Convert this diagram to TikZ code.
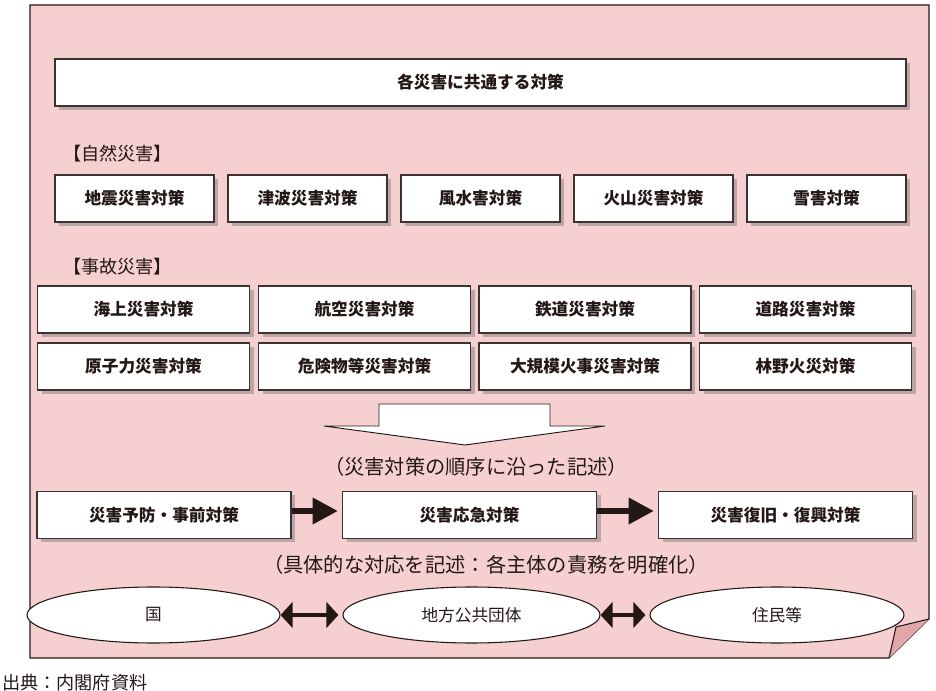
\documentclass[tikz,border=0pt]{standalone}
\usepackage{fontspec}
\setmainfont{Noto Sans CJK JP}
\usetikzlibrary{shapes.geometric,arrows.meta,shadows}
\definecolor{panel}{HTML}{F6CFD0}
\definecolor{flap}{HTML}{E0A6A8}
\definecolor{shade}{HTML}{BBA6A7}
\definecolor{ink}{HTML}{231815}
\definecolor{edge}{HTML}{3C3232}
\begin{document}
\begin{tikzpicture}[x=0.75pt,y=-0.75pt,
  box/.style={draw=edge, fill=white, line width=0.9pt, inner sep=0pt, text=ink,
    font=\fontsize{12.5}{14}\selectfont\bfseries, minimum height=35.25pt,
    drop shadow={shadow xshift=3pt, shadow yshift=-3pt, fill=shade, opacity=1}},
  natbox/.style={box, minimum width=119.25pt},
  accbox/.style={box, minimum width=159pt},
  phasebox/.style={box, minimum width=190.5pt},
  actor/.style={ellipse, draw=ink, fill=white, line width=0.8pt, inner sep=0pt,
    minimum height=42pt, text=ink, font=\fontsize{12.5}{14}\selectfont},
  lbl/.style={text=ink, inner sep=0pt, font=\fontsize{13.6}{15}\selectfont},
  paren/.style={text=ink, inner sep=0pt, font=\fontsize{15.2}{17}\selectfont},
  fatarrow/.style={draw=ink, line width=4.5pt, -{Triangle[length=19pt,width=19pt]}, shorten >=3pt},
  dblarrow/.style={draw=ink, line width=3.5pt, {Triangle[length=9pt,width=19pt]}-{Triangle[length=9pt,width=19pt]}, shorten >=3pt}
]
\useasboundingbox (0,0) rectangle (936,691);
% panel with folded corner
\draw[fill=panel, draw=ink, line width=0.8pt] (30,5) -- (929,5) -- (929,619) -- (889,658) -- (30,658) -- cycle;

% top box
\node[box, minimum width=638.25pt] (common) at (480.5,82.5) {各災害に共通する対策};

% natural disasters
\node[lbl, anchor=west] (natlbl) at (63,154) {【自然災害】};
\node[natbox] (n1) at (134.5,198.5) {地震災害対策};
\node[natbox] (n2) at (307.5,198.5) {津波災害対策};
\node[natbox] (n3) at (480.5,198.5) {風水害対策};
\node[natbox] (n4) at (653.5,198.5) {火山災害対策};
\node[natbox] (n5) at (826.5,198.5) {雪害対策};

% accident disasters
\node[lbl, anchor=west] (acclbl) at (63,267) {【事故災害】};
\node[accbox] (a1) at (143.5,309.5) {海上災害対策};
\node[accbox] (a2) at (364.5,309.5) {航空災害対策};
\node[accbox] (a3) at (585,309.5) {鉄道災害対策};
\node[accbox] (a4) at (805.5,309.5) {道路災害対策};
\node[accbox] (a5) at (143.5,366.5) {原子力災害対策};
\node[accbox] (a6) at (364.5,366.5) {危険物等災害対策};
\node[accbox] (a7) at (585,366.5) {大規模火事災害対策};
\node[accbox] (a8) at (805.5,366.5) {林野火災対策};

% big hollow arrow
\draw[fill=white, draw=ink, line width=0.7pt] (379,404) -- (550,404) -- (550,426) -- (605,426)
  -- (465,445) -- (324,426) -- (379,426) -- cycle;

\node[paren] (order) at (476,467) {（災害対策の順序に沿った記述）};

% phases
\node[phasebox] (p1) at (164,515) {災害予防・事前対策};
\node[phasebox] (p2) at (469.5,515) {災害応急対策};
\node[phasebox] (p3) at (785.5,515) {災害復旧・復興対策};
\draw[fatarrow] ([yshift=3pt]p1.east) -- ([yshift=3pt]p2.west);
\draw[fatarrow] ([yshift=3pt]p2.east) -- ([yshift=3pt]p3.west);

\node[paren] (roles) at (486,565) {（具体的な対応を記述：各主体の責務を明確化）};

% actors
\node[actor, minimum width=189.75pt] (e1) at (153.5,615) {国};
\node[actor, minimum width=192.75pt] (e2) at (471.5,615) {地方公共団体};
\node[actor, minimum width=190.5pt] (e3) at (777,615) {住民等};
\draw[dblarrow, shorten <=0pt] (e1.east) -- (e2.west);
\draw[dblarrow, shorten <=0pt] (e2.east) -- (e3.west);

% fold flap
\draw[fill=flap, draw=ink, line width=0.8pt] (929,619) -- (896,627) -- (889,658);

\node[lbl, anchor=west] (src) at (2,683) {出典：内閣府資料};
\end{tikzpicture}
\end{document}
